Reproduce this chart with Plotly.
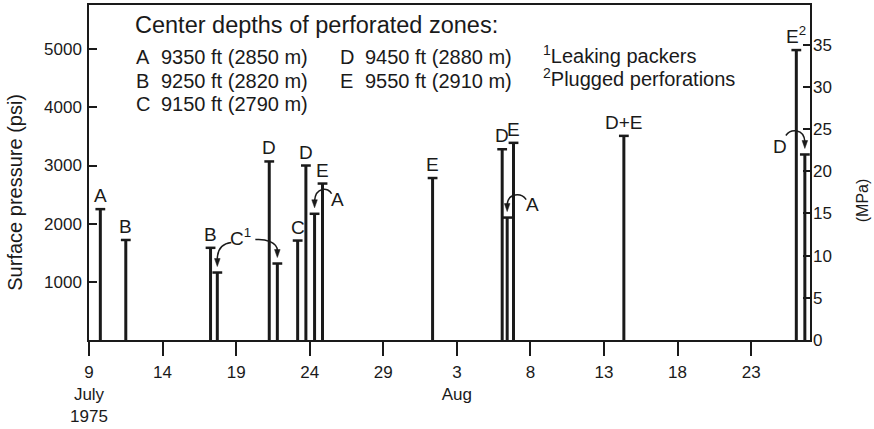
import plotly.graph_objects as go

# Days counted from 1 July 1975 (Aug n = 31 + n)
BAR_DAY = [9.77, 11.5, 17.26, 17.72, 21.25, 21.8, 23.18, 23.74, 24.33, 24.87,
           32.35, 37.08, 37.42, 37.85, 45.35, 57.07, 57.65]
BAR_PSI = [2250, 1720, 1585, 1160, 3070, 1315, 1710, 3000, 2170, 2690,
           2785, 3280, 2105, 3390, 3510, 4985, 3190]
BAR_LABEL = ["A", "B", "B", "", "D", "", "C", "D", "", "E",
             "E", "D", "", "E", "D+E", "E<sup>2</sup>", ""]

TICK_DAYS = [9, 14, 19, 24, 29, 34, 39, 44, 49, 54]
TICK_TEXT = ["9<br>July<br>1975", "14", "19", "24", "29", "3<br>Aug",
             "8", "13", "18", "23"]

ZONE_LETTERS = ["A", "B", "C", "D", "E"]
ZONE_DEPTHS = ["9350 ft (2850 m)", "9250 ft (2820 m)", "9150 ft (2790 m)",
               "9450 ft (2880 m)", "9550 ft (2910 m)"]
NOTES = ["<sup>1</sup>Leaking packers", "<sup>2</sup>Plugged perforations"]

PSI_PER_MPA = 145.038
X_RANGE = [9, 58]
Y_RANGE = [0, 5760]

INK = "#1a1a1a"
FONT = "Liberation Sans, Arial, sans-serif"

# plot box in pixels (for converting small pixel offsets of the arrows)
PLOT_W, PLOT_H = 721, 335.5
DAY_PER_PX = (X_RANGE[1] - X_RANGE[0]) / PLOT_W
PSI_PER_PX = (Y_RANGE[1] - Y_RANGE[0]) / PLOT_H

# curved arrows: target bar, cubic path offsets (px, y down) relative to tip,
# label text and its offset from the tip
ARROWS = [
    dict(bar=3, path=[(14, -24), (5, -23), (0, -17), (0, -7)],
         label="C<sup>1</sup>", lab=(23, -30)),
    dict(bar=5, path=[(-22, -18), (-12, -19), (0, -15), (0, -7)],
         label="", lab=(0, 0)),
    dict(bar=8, path=[(17, -14), (14, -21), (1, -21), (0, -7)],
         label="A", lab=(23, -8)),
    dict(bar=12, path=[(19, -12), (14, -19), (1, -19), (0, -7)],
         label="A", lab=(25, -7)),
    dict(bar=16, path=[(-19, -13), (-14, -20), (-1, -20), (0, -7)],
         label="D", lab=(-25, -2)),
]
TIP_GAP = 6  # px between bar cap and arrow tip


def to_data(day, psi, dx, dy):
    return day + dx * DAY_PER_PX, psi - dy * PSI_PER_PX


def px(xp, yp):
    """Pixel position inside the figure -> paper coordinates."""
    return (xp - 89) / PLOT_W, (340 - yp) / PLOT_H


def note(xp, yp, text, size, anchor="left", angle=0):
    x, y = px(xp, yp)
    fig.add_annotation(x=x, y=y, xref="paper", yref="paper", xanchor=anchor,
                       yanchor="middle", textangle=angle, text=text,
                       showarrow=False,
                       font=dict(size=size, color=INK, family=FONT))


fig = go.Figure()

xs, ys = [], []
for d, p in zip(BAR_DAY, BAR_PSI):
    xs += [d, d, None]
    ys += [0, p, None]
fig.add_trace(go.Scatter(x=xs, y=ys, mode="lines",
                         line=dict(color=INK, width=3), hoverinfo="skip",
                         showlegend=False))
fig.add_trace(go.Scatter(x=BAR_DAY, y=BAR_PSI, mode="markers",
                         marker=dict(symbol="line-ew", size=7,
                                     line=dict(color=INK, width=2.5)),
                         showlegend=False))
# dummy trace for the MPa axis
fig.add_trace(go.Scatter(x=[BAR_DAY[0]], y=[BAR_PSI[0] / PSI_PER_MPA],
                         yaxis="y2", mode="markers", marker=dict(opacity=0),
                         hoverinfo="skip", showlegend=False))

for d, p, lab in zip(BAR_DAY, BAR_PSI, BAR_LABEL):
    if lab:
        fig.add_annotation(x=d, y=p, text=lab, showarrow=False,
                           yanchor="bottom", yshift=1,
                           font=dict(size=19, color=INK, family=FONT))

for a in ARROWS:
    d, p = BAR_DAY[a["bar"]], BAR_PSI[a["bar"]]
    tip = to_data(d, p, 0, -TIP_GAP)
    pts = [to_data(tip[0], tip[1], ox, oy) for ox, oy in a["path"]]
    path = "M {},{} C {},{} {},{} {},{}".format(*[v for pt in pts for v in pt])
    fig.add_shape(type="path", path=path, xref="x", yref="y",
                  line=dict(color=INK, width=1.5))
    head = [to_data(tip[0], tip[1], ox, oy) for ox, oy in [(-2.8, -8), (2.8, -8), (0, 0)]]
    hpath = "M {},{} L {},{} L {},{} Z".format(*[v for pt in head for v in pt])
    fig.add_shape(type="path", path=hpath, xref="x", yref="y",
                  fillcolor=INK, line=dict(color=INK, width=0.5))
    if a["label"]:
        lx, ly = to_data(tip[0], tip[1], *a["lab"])
        fig.add_annotation(x=lx, y=ly, text=a["label"], showarrow=False,
                           font=dict(size=19, color=INK, family=FONT))

# key to the zones
note(133, 25, "Center depths of perforated zones:", 23.5)
rows = [57, 80.5, 104]
cols = [(134, 159), (338, 363)]
for i, (let, dep) in enumerate(zip(ZONE_LETTERS, ZONE_DEPTHS)):
    c = cols[i // 3]
    r = rows[i % 3]
    note(c[0], r, let, 20)
    note(c[1], r, dep, 20)
for i, t in enumerate(NOTES):
    note(541, rows[i] - 3, t, 20)

# axis titles
note(15.5, 192, "Surface pressure (psi)", 20, anchor="center", angle=-90)
note(862, 200, "(MPa)", 16, anchor="center", angle=-90)

axis_common = dict(showgrid=False, zeroline=False, linecolor=INK,
                   tickcolor=INK, tickwidth=1.5, automargin=False,
                   tickfont=dict(size=17, color=INK, family=FONT))
fig.update_layout(
    width=874, height=429,
    margin=dict(l=89, r=64, t=5, b=89),
    plot_bgcolor="white", paper_bgcolor="white",
    xaxis=dict(range=X_RANGE, tickvals=TICK_DAYS, ticktext=TICK_TEXT,
               ticks="outside", ticklen=14, showline=True, linewidth=1.5,
               mirror=True, ticklabelstandoff=2, **axis_common),
    yaxis=dict(range=Y_RANGE, tickvals=[1000, 2000, 3000, 4000, 5000],
               ticks="inside", ticklen=8, showline=True, linewidth=1.5,
               mirror=True, ticklabelstandoff=2, **axis_common),
    yaxis2=dict(range=[Y_RANGE[0] / PSI_PER_MPA, Y_RANGE[1] / PSI_PER_MPA],
                overlaying="y", side="right", tickvals=list(range(0, 40, 5)),
                ticks="inside", ticklen=7, showline=False,
                ticklabelstandoff=2, **axis_common),
)

# page body margin off so the figure sits at the window's corner
fig.write_html("out.html", config={"displayModeBar": False},
               post_script="document.body.style.margin='0';")
